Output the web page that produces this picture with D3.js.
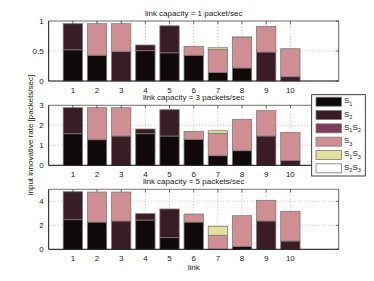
<!DOCTYPE html>
<html>
<head>
<meta charset="utf-8">
<script src="https://cdn.jsdelivr.net/npm/d3@7"></script>
<style>
  body { margin: 0; background: #fff; }
  text { font-family: "Liberation Sans", Arial, sans-serif; fill: #222; }
</style>
</head>
<body>
<div id="canvas"></div>
<script>
// Links on the x axis
var links = [1, 2, 3, 4, 5, 6, 7, 8, 9, 10];

// Series names (legend order = stacking order)
var seriesNames = ["S1", "S2", "S1S2", "S3", "S1S3", "S2S3"];
var seriesColors = ["#0f0909", "#3a1c24", "#7d3d5a", "#cf8e93", "#e3e09b", "#ffffff"];

// Panel titles and y tick values
var panelTitles = ["link capacity = 1 packet/sec", "link capacity = 3 packets/sec", "link capacity = 5 packets/sec"];
var panelMax = [1, 3, 5];
var panelTicks = [[0, 0.5, 1], [0, 1, 2, 3], [0, 2, 4]];

// Capacity 1 packet/sec
var cap1_S1   = [0.52, 0.43, 0, 0.505, 0.47, 0.43, 0.145, 0.217, 0, 0];
var cap1_S2   = [0.435, 0, 0.49, 0.095, 0.45, 0, 0, 0, 0.483, 0.072];
var cap1_S1S2 = [0, 0, 0, 0, 0, 0, 0, 0, 0, 0];
var cap1_S3   = [0, 0.525, 0.465, 0, 0, 0.148, 0.383, 0.508, 0.429, 0.466];
var cap1_S1S3 = [0, 0, 0, 0, 0, 0, 0.027, 0, 0, 0];
var cap1_S2S3 = [0, 0, 0, 0, 0, 0, 0, 0.01, 0, 0];

// Capacity 3 packets/sec
var cap3_S1   = [1.58, 1.28, 0, 1.58, 1.465, 1.3, 0.48, 0.73, 0, 0];
var cap3_S2   = [1.3, 0, 1.465, 0.235, 1.315, 0, 0, 0, 1.465, 0.25];
var cap3_S1S2 = [0, 0, 0, 0, 0, 0, 0, 0, 0, 0];
var cap3_S3   = [0, 1.6, 1.415, 0, 0, 0.4, 1.12, 1.57, 1.265, 1.4];
var cap3_S1S3 = [0, 0, 0, 0, 0, 0, 0.13, 0, 0, 0];
var cap3_S2S3 = [0, 0, 0, 0, 0, 0, 0, 0, 0, 0];

// Capacity 5 packets/sec
var cap5_S1   = [2.47, 2.27, 0, 2.44, 0.97, 2.27, 0, 0.25, 0, 0];
var cap5_S2   = [2.33, 0, 2.36, 0.53, 2.39, 0, 0, 0, 2.36, 0.69];
var cap5_S1S2 = [0, 0, 0, 0, 0, 0, 0, 0, 0, 0];
var cap5_S3   = [0, 2.5, 2.41, 0, 0, 0.67, 1.17, 2.55, 1.72, 2.48];
var cap5_S1S3 = [0, 0, 0, 0, 0, 0, 0.75, 0, 0, 0];
var cap5_S2S3 = [0, 0, 0, 0, 0, 0, 0, 0, 0, 0];

var panelData = [
    [cap1_S1, cap1_S2, cap1_S1S2, cap1_S3, cap1_S1S3, cap1_S2S3],
    [cap3_S1, cap3_S2, cap3_S1S2, cap3_S3, cap3_S1S3, cap3_S2S3],
    [cap5_S1, cap5_S2, cap5_S1S2, cap5_S3, cap5_S1S3, cap5_S2S3]
];

// Canvas
var width = 374, height = 281;
var left = 48.7, right = 338.7;
var panelTop = [21, 105.3, 189.3];
var panelH = 60;
var barW = 0.8;

var svg = d3.select("#canvas")
    .append("svg")
        .attr("width", width)
        .attr("height", height);

var x = d3.scaleLinear()
    .domain([0, 12])
    .range([left, right]);

panelData.forEach(function(series, p) {
    var top = panelTop[p];
    var y = d3.scaleLinear()
        .domain([0, panelMax[p]])
        .range([top + panelH, top]);

    var g = svg.append("g");

    // Grid lines (dotted)
    g.selectAll(".vgrid")
        .data(links)
        .join("line")
            .attr("x1", d => x(d)).attr("x2", d => x(d))
            .attr("y1", top).attr("y2", top + panelH)
            .attr("stroke", "#999").attr("stroke-width", 0.6)
            .attr("stroke-dasharray", "1,2");
    g.selectAll(".hgrid")
        .data(panelTicks[p])
        .join("line")
            .attr("x1", left).attr("x2", right)
            .attr("y1", d => y(d)).attr("y2", d => y(d))
            .attr("stroke", "#999").attr("stroke-width", 0.6)
            .attr("stroke-dasharray", "1,2");

    // Stack the series for each link
    var rows = links.map(function(l, i) {
        var row = {link: l};
        seriesNames.forEach(function(s, k) { row[s] = series[k][i]; });
        return row;
    });
    var stacked = d3.stack().keys(seriesNames)(rows);

    stacked.forEach(function(layer, k) {
        g.append("g")
            .selectAll("rect")
            .data(layer.filter(d => d[1] - d[0] > 0))
            .join("rect")
                .attr("x", d => x(d.data.link - barW / 2))
                .attr("width", x(barW) - x(0))
                .attr("y", d => y(d[1]))
                .attr("height", d => y(d[0]) - y(d[1]))
                .attr("fill", seriesColors[k])
                .attr("stroke", "#7a7a7a")
                .attr("stroke-width", 0.8);
    });

    // Axes box
    g.append("line").attr("x1", left).attr("x2", right).attr("y1", top).attr("y2", top)
        .attr("stroke", "#777").attr("stroke-width", 1);
    g.append("line").attr("x1", right).attr("x2", right).attr("y1", top).attr("y2", top + panelH)
        .attr("stroke", "#333").attr("stroke-width", 0.8);
    g.append("line").attr("x1", left).attr("x2", right).attr("y1", top + panelH).attr("y2", top + panelH)
        .attr("stroke", "#111").attr("stroke-width", 1);
    g.append("line").attr("x1", left).attr("x2", left).attr("y1", top).attr("y2", top + panelH)
        .attr("stroke", "#111").attr("stroke-width", 1);

    // Inward tick marks
    g.selectAll(".xt")
        .data(links)
        .join("line")
            .attr("x1", d => x(d)).attr("x2", d => x(d))
            .attr("y1", top).attr("y2", top + 3)
            .attr("stroke", "#333").attr("stroke-width", 0.7);
    g.selectAll(".yt")
        .data(panelTicks[p])
        .join("line")
            .attr("x1", right - 3).attr("x2", right)
            .attr("y1", d => y(d)).attr("y2", d => y(d))
            .attr("stroke", "#333").attr("stroke-width", 0.7);

    // Tick labels
    g.selectAll(".xl")
        .data(links)
        .join("text")
            .attr("x", d => x(d))
            .attr("y", top + panelH + 12)
            .attr("text-anchor", "middle")
            .attr("font-size", "8px")
            .text(d => d);
    g.selectAll(".yl")
        .data(panelTicks[p])
        .join("text")
            .attr("x", left - 5)
            .attr("y", d => y(d) + 3)
            .attr("text-anchor", "end")
            .attr("font-size", "8px")
            .text(d => d);

    // Title
    g.append("text")
        .attr("x", (left + right) / 2)
        .attr("y", top - 5)
        .attr("text-anchor", "middle")
        .attr("font-size", "8px")
        .text(panelTitles[p]);
});

// Axis labels
svg.append("text")
    .attr("x", (left + right) / 2)
    .attr("y", 270)
    .attr("text-anchor", "middle")
    .attr("font-size", "8px")
    .text("link");
svg.append("text")
    .attr("transform", "translate(33,135) rotate(-90)")
    .attr("text-anchor", "middle")
    .attr("font-size", "8px")
    .text("input innovative rate [packets/sec]");

// Legend
var legend = svg.append("g");
legend.append("rect")
    .attr("x", 311.7).attr("y", 94.7)
    .attr("width", 53.6).attr("height", 81.3)
    .attr("fill", "#fff").attr("stroke", "#111").attr("stroke-width", 0.8);

var legendY = d3.scalePoint()
    .domain(seriesNames)
    .range([101.7, 168.3]);

// Legend labels split into letter / subscript pairs
var subs = {S1: [["S", "1"]], S2: [["S", "2"]], S1S2: [["S", "1"], ["S", "2"]],
            S3: [["S", "3"]], S1S3: [["S", "1"], ["S", "3"]], S2S3: [["S", "2"], ["S", "3"]]};

seriesNames.forEach(function(s, k) {
    var cy = legendY(s);
    legend.append("rect")
        .attr("x", 316).attr("y", cy - 4.5)
        .attr("width", 25.5).attr("height", 9)
        .attr("fill", seriesColors[k])
        .attr("stroke", "#7a7a7a").attr("stroke-width", 0.8);
    var t = legend.append("text")
        .attr("x", 344).attr("y", cy + 1.5)
        .attr("font-size", "8px");
    subs[s].forEach(function(part) {
        t.append("tspan").attr("y", cy + 1.5).text(part[0]);
        t.append("tspan").attr("y", cy + 4).attr("font-size", "5.5px").text(part[1]);
    });
});
</script>
</body>
</html>
